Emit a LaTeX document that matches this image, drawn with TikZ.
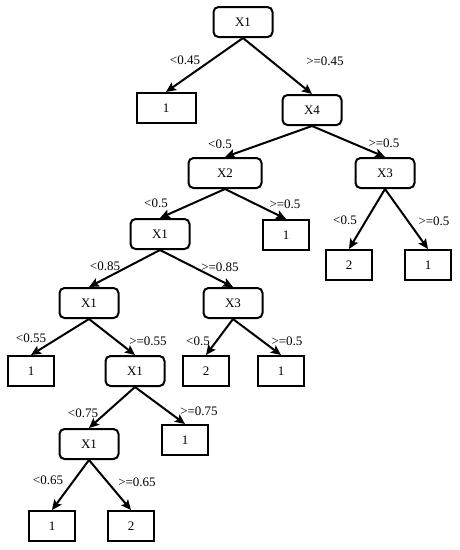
\documentclass[tikz,border=0pt]{standalone}
\usepackage{fontspec}
\setmainfont{Liberation Serif}
\usetikzlibrary{arrows.meta}

\tikzset{
    split/.style={draw, rounded corners=5pt, minimum width=59pt, minimum height=30pt, inner sep=0pt},
    leaf/.style={draw, minimum width=46pt, minimum height=30pt, inner sep=0pt},
    cond/.style={inner sep=0pt},
}

\begin{document}
\begin{tikzpicture}[x=1pt, y=-1pt, line width=2pt, >={Stealth[length=10pt, width=9pt, inset=2pt]}, font=\fontsize{13}{15}\selectfont]
    \useasboundingbox (0,0) rectangle (459,550);

    % Draw split nodes
    \node [split] (root) at (243,22) {X1};
    \node [split] (x4) at (312,110) {X4};
    \node [split, minimum width=73pt] (x2) at (225,173) {X2};
    \node [split] (x3a) at (385,173) {X3};
    \node [split] (x1a) at (160,234) {X1};
    \node [split] (x1b) at (89,303) {X1};
    \node [split] (x3b) at (233,303) {X3};
    \node [split] (x1c) at (135,371) {X1};
    \node [split] (x1d) at (89,444) {X1};

    % Draw leaves
    \node [leaf, minimum width=59pt] (l1) at (166,108) {1};
    \node [leaf] (l2) at (286,235) {1};
    \node [leaf] (l3) at (349,265) {2};
    \node [leaf] (l4) at (428,265) {1};
    \node [leaf] (l5) at (31,371) {1};
    \node [leaf] (l6) at (206,371) {2};
    \node [leaf] (l7) at (281,371) {1};
    \node [leaf] (l8) at (185,440) {1};
    \node [leaf] (l9) at (52,526) {1};
    \node [leaf] (l10) at (131,526) {2};

    % Draw arrows
    \draw [->] (root.south) -- (l1.north);
    \draw [->] (root.south) -- (x4.north);
    \draw [->] (x4.south) -- (x2.north);
    \draw [->] (x4.south) -- (x3a.north);
    \draw [->] (x2.south) -- (x1a.north);
    \draw [->] (x2.south) -- (l2.north);
    \draw [->] (x3a.south) -- (l3.north);
    \draw [->] (x3a.south) -- (l4.north);
    \draw [->] (x1a.south) -- (x1b.north);
    \draw [->] (x1a.south) -- (x3b.north);
    \draw [->] (x1b.south) -- (l5.north);
    \draw [->] (x1b.south) -- (x1c.north);
    \draw [->] (x3b.south) -- (l6.north);
    \draw [->] (x3b.south) -- (l7.north);
    \draw [->] (x1c.south) -- (x1d.north);
    \draw [->] (x1c.south) -- (l8.north);
    \draw [->] (x1d.south) -- (l9.north);
    \draw [->] (x1d.south) -- (l10.north);

    % Draw split conditions
    \node [cond] at (185,60) {<0.45};
    \node [cond] at (325,61) {>=0.45};
    \node [cond] at (220,144) {<0.5};
    \node [cond] at (384,143) {>=0.5};
    \node [cond] at (156,203) {<0.5};
    \node [cond] at (285,204) {>=0.5};
    \node [cond] at (345,220) {<0.5};
    \node [cond] at (434,221) {>=0.5};
    \node [cond] at (105,266) {<0.85};
    \node [cond] at (220,267) {>=0.85};
    \node [cond] at (31,338) {<0.55};
    \node [cond] at (148,341) {>=0.55};
    \node [cond] at (198,341) {<0.5};
    \node [cond] at (287,341) {>=0.5};
    \node [cond] at (83,413) {<0.75};
    \node [cond] at (199,411) {>=0.75};
    \node [cond] at (48,480) {<0.65};
    \node [cond] at (137,482) {>=0.65};

\end{tikzpicture}
\end{document}
